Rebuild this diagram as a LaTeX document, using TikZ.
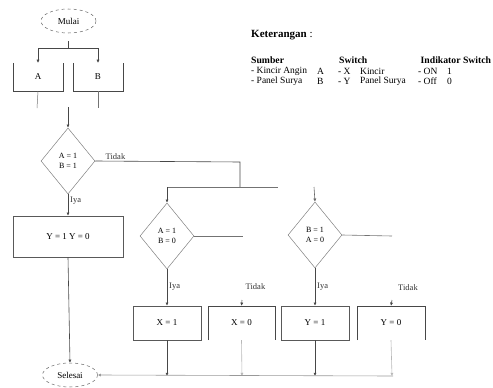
\documentclass[tikz,border=0pt]{standalone}
\usepackage{fontspec}
\setmainfont{Liberation Serif}
\usetikzlibrary{shapes.geometric,arrows.meta}
\begin{document}
\begin{tikzpicture}[x=1pt,y=-1pt,
  ln/.style={draw=black!72,line width=0.6pt},
  faint/.style={draw=black!28,line width=0.6pt},
  arr/.style={-{Latex[length=3.2pt,width=3.2pt]}},
  term/.style={ellipse,draw=black!60,dashed,line width=0.5pt,minimum width=55pt,minimum height=24pt,inner sep=0pt,font=\fontsize{9}{10}\selectfont},
  dec/.style={diamond,draw=black!50,line width=0.5pt,minimum width=54pt,minimum height=66pt,inner sep=0pt,align=center,font=\fontsize{8}{9.5}\selectfont},
  proc/.style={draw=black!65,line width=0.5pt,minimum height=34pt,inner sep=0pt,font=\fontsize{9}{10}\selectfont},
  open/.style={draw=none,inner sep=0pt,font=\fontsize{9}{10}\selectfont},
  lbl/.style={inner sep=0pt,font=\fontsize{8.5}{10}\selectfont,text=black!80},
  leg/.style={anchor=west,inner sep=0pt,font=\fontsize{9.5}{11}\selectfont},
  legb/.style={anchor=west,inner sep=0pt,font=\fontsize{9.7}{11}\selectfont\bfseries}
]
\useasboundingbox (0,0) rectangle (493,388);

% terminals
\node[term] (mulai) at (68.5,21) {Mulai};
\node[term] (selesai) at (70,375) {Selesai};

% sources A and B (open top)
\node[open,minimum width=50pt,minimum height=28pt] (A) at (38,77) {A};
\node[open,minimum width=50pt,minimum height=28pt] (B) at (98,77) {B};
\draw[ln,line width=0.5pt] (A.north west) -- (A.south west) -- (A.south east) -- (A.north east);
\draw[ln,line width=0.5pt] (B.north west) -- (B.south west) -- (B.south east) -- (B.north east);

% decisions
\node[dec] (d1) at (68,161) {A = 1\\B = 1};
\node[dec] (d2) at (167,236) {A = 1\\B = 0};
\node[dec] (d3) at (315,235) {B = 1\\A = 0};

% processes
\node[proc,minimum width=110pt,minimum height=41pt] (yy) at (68,236.5) {Y = 1 Y = 0};
\node[proc,minimum width=68pt] (x1) at (167,323) {X = 1};
\node[open,minimum width=67pt,minimum height=34pt] (x0) at (241.5,323) {X = 0};
\node[proc,minimum width=68pt] (y1) at (315,323) {Y = 1};
\node[open,minimum width=68pt,minimum height=34pt] (y0) at (391,323) {Y = 0};
\draw[ln,line width=0.6pt] (x0.south west) -- (x0.north west) -- (x0.north east) -- (x0.south east);
\draw[ln,line width=0.6pt] (y0.south west) -- (y0.north west) -- (y0.north east) -- (y0.south east);

% coordinates
\coordinate (m1) at (68,41);
\coordinate (m2) at (68,48);
\coordinate (ae) at (37,108);
\coordinate (be) at (98,108);
\coordinate (j0) at (68,107);
\coordinate (t1) at (240,162);
\coordinate (t2) at (240,187);
\coordinate (t3) at (167,187);
\coordinate (t4) at (278,187);
\coordinate (t5) at (314,187);
\coordinate (e2) at (243,236);
\coordinate (e3) at (392,236);
\coordinate (s0) at (242,300);
\coordinate (s1) at (392,300);
\coordinate (b1) at (167,376);
\coordinate (b2) at (242,376);
\coordinate (b3) at (315,376);
\coordinate (b4) at (392,376);
\coordinate (b5) at (393,376);

% connectors
\draw[ln] (m1) -- (m2);
\draw[ln,arr] (m2) -| (A.north);
\draw[ln,arr] (m2) -| (B.north);
\draw[ln,line width=0.5pt,draw=black!55] (A.south) -- (ae);
\draw[ln,line width=0.5pt,draw=black!55] (B.south) -- (be);
\draw[ln,arr] (j0) -- (d1.north);

\draw[ln] (d1.east) -- (t1) -- (t2);
\draw[ln,draw=black!55] (t3) -- (t4);
\draw[ln,arr] (t3) -- (d2.north);
\draw[faint,arr,draw=black!60] (t5) -- (d3.north);
\draw[ln,draw=black!55] (d2.east) -- (e2);
\draw[ln,draw=black!55] (d3.east) -- (e3);

\draw[ln,arr] (d1.south) -- (yy.north);
\draw[ln,arr] (yy.south) -- (selesai.north);

\draw[ln,arr] (d2.south) -- (x1.north);
\draw[ln,arr] (d3.south) -- (y1.north);
\draw[faint,arr,draw=black!70] (s0) -- (x0.north);
\draw[faint,arr,draw=black!70] (s1) -- (y0.north);

\draw[ln,arr] (x1.south) -- (b1);
\draw[faint,arr] (x0.south) -- (b2);
\draw[ln,arr] (y1.south) -- (b3);
\draw[faint,arr] (y0.south) -- (b4);
\draw[faint,draw=black!40,arr] (b5) -- (selesai.east);

% labels
\node[lbl] (l1) at (115.5,157) {Tidak};
\node[lbl,anchor=west] (l2) at (70,201) {Iya};
\node[lbl,anchor=west] (l3) at (169,287) {Iya};
\node[lbl] (l4) at (255.5,287) {Tidak};
\node[lbl,anchor=west] (l5) at (317,287) {Iya};
\node[lbl] (l6) at (408,288) {Tidak};

% legend
\node[anchor=west,inner sep=0pt,font=\fontsize{11}{12}\selectfont] (ket) at (251,35) {\textbf{Keterangan} :};
\node[legb] (h1) at (251,60) {Sumber};
\node[legb] (h2) at (339,60) {Switch};
\node[legb] (h3) at (420.5,60) {Indikator Switch};
\node[leg] (r11) at (251,71) {- Kincir Angin};
\node[leg] (r12) at (317,71) {A};
\node[leg] (r21) at (251,81) {- Panel Surya};
\node[leg] (r22) at (317,81) {B};
\node[leg] (r13) at (338,71) {- X};
\node[leg] (r14) at (360,71) {Kincir};
\node[leg] (r23) at (338,81) {- Y};
\node[leg] (r24) at (360,81) {Panel Surya};
\node[leg] (r15) at (418,71) {- ON};
\node[leg] (r16) at (447,71) {1};
\node[leg] (r25) at (418,81) {- Off};
\node[leg] (r26) at (447,81) {0};
\end{tikzpicture}
\end{document}
